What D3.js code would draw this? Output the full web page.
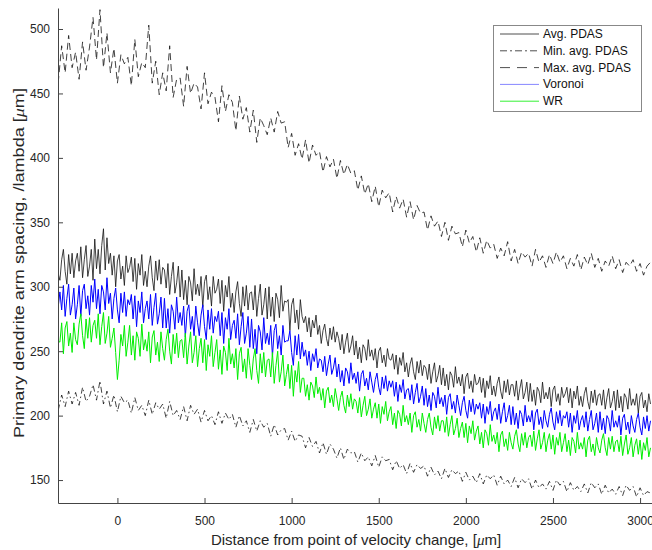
<!DOCTYPE html>
<html><head><meta charset="utf-8">
<script src="https://cdn.jsdelivr.net/npm/d3@7"></script>
<style>
html,body{margin:0;padding:0;background:#fff;}
svg{display:block;font-family:"Liberation Sans",Arial,Helvetica,sans-serif;}
</style></head>
<body><svg id="c" width="652" height="550"></svg>
<script>
// sampling grids (µm): dense series every 10 from -340, min/max every 20 from -340
const xStart = -340, denseStep = 10, coarseStep = 20;

const maxAvg = [
458,487,466,495,470, 482,461,490,468,486, 509,476,515,470,497, 466,485,458,480,473,
478,456,492,463,474, 470,503,458,475,449, 466,452,487,447,461, 462,440,471,450,458,
455,438,466,442,451, 447,428,456,436,449, 443,421,448,430,439, 420,437,412,431,425,
418,431,420,436,427, 428,408,419,402,411, 399,414,396,410,402, 405,389,401,393,399,
384,398,387,395,388, 390,375,386,372,380, 366,378,362,375,369, 373,358,370,361,368,
354,366,352,363,357, 358,344,355,347,351, 339,350,336,347,341, 342,331,344,334,339,
327,338,326,336,330, 333,322,330,324,335, 320,329,318,327,323, 326,316,329,319,324,
315,325,318,327,319, 324,314,322,316,325, 313,323,317,326,315, 322,312,320,316,324,
314,321,311,319,316, 321,312,318,309,316, 319];

const minAvg = [
204,216,207,219,209, 218,208,222,211,215, 224,212,227,209,219, 206,216,203,215,210,
212,202,214,204,208, 200,212,201,210,205, 209,198,211,200,204, 197,207,196,208,201,
205,195,204,196,200, 193,203,194,202,197, 201,191,200,192,196, 187,197,188,196,191,
194,184,193,185,189, 190,181,188,180,185, 184,175,183,176,180, 171,179,170,178,174,
167,175,166,174,171, 172,164,171,165,168, 161,169,160,168,165, 166,158,165,159,162,
155,163,156,162,159, 161,153,160,154,157, 151,159,152,158,155, 157,149,156,150,153,
148,155,147,154,151, 154,146,153,147,150, 145,152,144,151,148, 151,143,150,144,147,
143,149,142,150,146, 149,141,148,142,145, 141,147,140,148,144, 147,139,146,140,143,
139,145,138,146,142, 145,137,144,138,141, 140];

const avgPDAS = [310,
305,321,329,312,302,325,310,326,307,320, 326,312,331,307,321,332,308,316,329,305,
337,314,329,310,332,345,313,338,318,326, 309,324,300,320,325,306,316,301,324,311,
315,323,304,322,298,318,309,325,301,312, 300,316,324,307,297,320,305,321,302,315,
313,299,318,294,308,319,295,303,316,292, 313,290,305,286,308,303,289,314,294,302,
293,308,284,304,309,290,300,285,308,295, 298,306,287,305,281,301,292,308,284,295,
280,296,304,287,277,300,285,301,282,295, 296,282,301,277,291,302,278,286,299,275,
300,277,292,273,295,290,276,301,281,289, 288,290,266,286,291,272,282,267,290,277,
272,277,265,276,261,274,268,278,263,270, 256,266,271,260,254,268,259,269,257,265,
260,251,263,248,257,264,249,254,262,247, 258,244,253,241,255,252,243,259,246,251,
243,252,237,250,253,241,247,238,252,244, 243,248,236,247,232,245,239,249,234,241,
230,240,245,234,228,242,233,243,231,239, 237,228,240,225,234,241,226,231,239,224,
237,223,232,220,234,231,222,238,225,230, 223,232,217,230,233,221,227,218,232,224,
225,230,218,229,214,227,221,231,216,223, 215,225,230,219,213,227,218,228,216,224,
224,215,227,212,221,228,213,218,226,211, 225,211,220,208,222,219,210,226,213,218,
213,222,207,220,223,211,217,208,222,214, 217,222,210,221,206,219,213,223,208,215,
207,217,222,211,205,219,210,220,208,216, 217,208,220,205,214,221,206,211,219,204,
220,206,215,203,217,214,205,221,208,213, 208,217,202,215,218,206,212,203,217,209];

const voronoi = [284,
296,282,301,277,291,302,278,286,299,275, 286,301,277,297,302,283,293,278,301,288,
306,283,298,279,301,296,282,307,287,295, 275,291,299,282,272,295,280,296,277,290,
286,294,275,293,269,289,280,296,272,283, 289,275,294,270,284,295,271,279,292,268,
291,268,283,264,286,281,267,292,272,280, 270,285,261,281,286,267,277,262,285,272,
262,278,286,269,259,282,267,283,264,277, 273,281,262,280,256,276,267,283,259,270,
274,260,279,255,269,280,256,264,277,253, 275,252,267,248,270,265,251,276,256,264,
255,270,246,266,271,252,262,247,270,257, 258,258,266,249,239,262,247,263,244,257,
246,251,239,250,235,248,242,252,237,244, 243,234,246,231,240,247,232,237,245,230,
240,226,235,223,237,234,225,241,228,233, 225,234,219,232,235,223,229,220,234,226,
218,228,233,222,216,230,221,231,219,227, 222,227,215,226,211,224,218,228,213,220,
221,212,224,209,218,225,210,215,223,208, 221,207,216,204,218,215,206,222,209,214,
207,216,201,214,217,205,211,202,216,208, 200,210,215,204,198,212,203,213,201,209,
205,210,198,209,194,207,201,211,196,203, 206,197,209,194,203,210,195,200,208,193,
207,193,202,190,204,201,192,208,195,200, 195,204,189,202,205,193,199,190,204,196,
191,201,206,195,189,203,194,204,192,200, 198,203,191,202,187,200,194,204,189,196,
200,191,203,188,197,204,189,194,202,187, 203,189,198,186,200,197,188,204,191,196,
191,200,185,198,201,189,195,186,200,192, 187,197,202,191,185,199,190,200,188,196];

const wr = [258,
257,272,248,268,273,254,264,249,272,259, 255,271,279,262,252,275,260,276,257,270,
274,260,279,255,269,280,256,264,277,253, 260,268,249,228,243,263,254,270,246,257,
270,247,262,243,265,260,246,271,251,259, 250,265,241,261,266,247,257,242,265,252,
243,259,267,250,240,263,248,264,245,258, 259,245,264,240,254,265,241,249,262,238,
252,260,241,259,235,255,246,262,238,249, 259,236,251,232,254,249,235,260,240,248,
237,252,228,248,253,234,244,229,252,239, 228,244,252,235,225,248,233,249,230,243,
244,230,249,225,239,250,226,234,247,223, 232,240,221,239,215,235,226,242,218,229,
229,215,224,212,226,223,214,230,217,222, 212,221,206,219,222,210,216,207,221,213,
204,214,219,208,202,216,207,217,205,213, 211,202,214,199,208,215,200,205,213,198,
205,210,198,209,194,207,201,211,196,203, 207,193,202,190,204,201,192,208,195,200,
193,202,187,200,203,191,197,188,202,194, 187,197,202,191,185,199,190,200,188,196,
196,187,199,184,193,200,185,190,198,183, 190,195,183,194,179,192,186,196,181,188,
192,178,187,175,189,186,177,193,180,185, 178,187,172,185,188,176,182,173,187,179,
174,184,189,178,172,186,177,187,175,183, 185,176,188,173,182,189,174,179,187,172,
181,186,174,185,170,183,177,187,172,179, 186,172,181,169,183,180,171,187,174,179,
174,183,168,181,184,172,178,169,183,175, 171,181,186,175,169,183,174,184,172,180,
181,172,184,169,178,185,170,175,183,168, 177,182,170,181,166,179,173,183,168,175];

const xTicks = [0, 500, 1000, 1500, 2000, 2500, 3000];
const yTicks = [150, 200, 250, 300, 350, 400, 450, 500];

const seriesNames = ["Avg. PDAS", "Min. avg. PDAS", "Max. avg. PDAS", "Voronoi", "WR"];
const seriesData = [avgPDAS, minAvg, maxAvg, voronoi, wr];
const seriesSteps = [denseStep, coarseStep, coarseStep, denseStep, denseStep];
const seriesColors = ["#111111", "#111111", "#111111", "#0000ff", "#00ee00"];
const seriesDash = [null, "6,3,1.5,3", "7,4", null, null];

const svg = d3.select("#c");
const L = 58, R = 654, T = 8, B = 503;
const x = d3.scaleLinear().domain([-341, 3080]).range([L, R]);
const y = d3.scaleLinear().domain([132.2, 516.3]).range([B, T]);

svg.append("defs").append("clipPath").attr("id","clip")
  .append("rect").attr("x",L).attr("y",T).attr("width",R-L+10).attr("height",B-T);

const g = svg.append("g").attr("clip-path","url(#clip)");
[2,1,0,3,4].forEach(k=>{
  const st = seriesSteps[k];
  const line = d3.line().x((d,i)=>x(xStart + i*st)).y(d=>y(d));
  g.append("path").datum(seriesData[k])
    .attr("d", line)
    .attr("fill","none")
    .attr("stroke", seriesColors[k])
    .attr("stroke-width", k>=3 ? 1 : 0.8)
    .attr("stroke-dasharray", seriesDash[k])
    .attr("stroke-linejoin","round");
});

// axes
const axColor = "#444";
const xa = svg.append("g").attr("transform",`translate(0,${B})`)
  .call(d3.axisBottom(x).tickValues(xTicks).tickFormat(d3.format("d")).tickSizeInner(-5).tickSizeOuter(0).tickPadding(13));
const ya = svg.append("g").attr("transform",`translate(${L},0)`)
  .call(d3.axisLeft(y).tickValues(yTicks).tickFormat(d3.format("d")).tickSizeInner(-5).tickSizeOuter(0).tickPadding(8));
[xa,ya].forEach(a=>{
  a.select(".domain").attr("stroke",axColor).attr("stroke-width",1);
  a.selectAll(".tick line").attr("stroke",axColor);
  a.selectAll(".tick text").attr("fill","#262626").attr("font-size",12)
   .attr("font-family",'"Liberation Sans",Arial,sans-serif');
});

function unitLabel(sel, pre){
  sel.append("tspan").text(pre + "[");
  sel.append("tspan").attr("font-style","italic").attr("font-family",'"Liberation Serif","DejaVu Serif",serif').text("\u03bc");
  sel.append("tspan").text("m]");
}
const xl = svg.append("text").attr("x",356).attr("y",545).attr("text-anchor","middle")
  .attr("font-size",15).attr("fill","#262626");
unitLabel(xl, "Distance from point of velocity change, ");
const yl = svg.append("text").attr("transform","translate(24,263) rotate(-90)")
  .attr("text-anchor","middle").attr("font-size",15).attr("fill","#262626")
  .attr("textLength",350).attr("lengthAdjust","spacingAndGlyphs");
unitLabel(yl, "Primary dendrite arm spacing, /lambda ");

// legend
const lg = svg.append("g");
lg.append("rect").attr("x",493.5).attr("y",25.5).attr("width",148).attr("height",86)
  .attr("fill","#fff").attr("stroke","#888").attr("stroke-width",1);
seriesNames.forEach((n,i)=>{
  const yy = 34 + i*16.8;
  lg.append("line").attr("x1",500).attr("x2",539).attr("y1",yy).attr("y2",yy)
    .attr("stroke", i>=3 ? seriesColors[i] : "#222").attr("stroke-width", 0.8)
    .attr("stroke-opacity", i===3 ? 0.6 : 1)
    .attr("stroke-dasharray", i===1 ? "7,3,2,3" : (i===2 ? "10,7" : null));
  lg.append("text").attr("x",543).attr("y",yy+4).attr("font-size",12).attr("fill","#111").text(n);
});
</script></body></html>
